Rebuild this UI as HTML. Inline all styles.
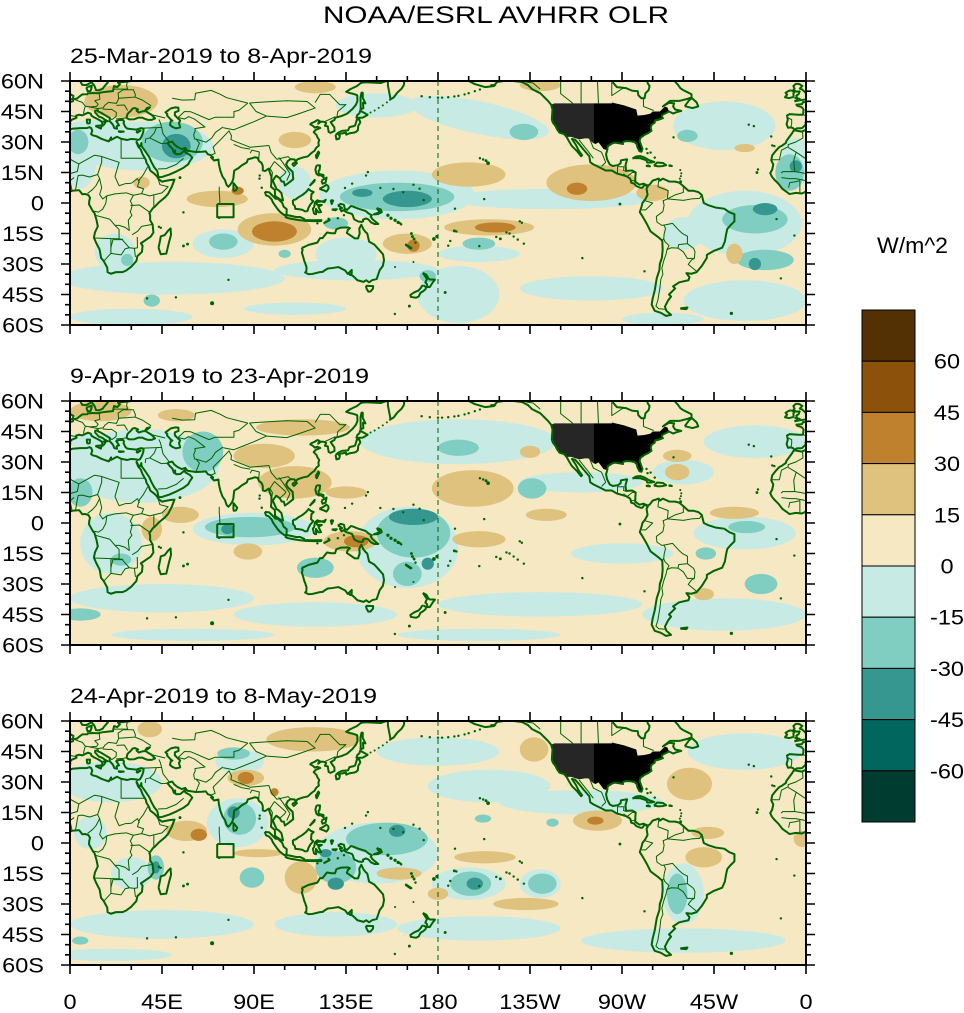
<!DOCTYPE html>
<html><head><meta charset="utf-8"><style>
html,body{margin:0;padding:0;background:#fff}
svg{display:block}
text{font-family:"Liberation Sans",Arial,sans-serif;fill:#000}
.c{fill:none;stroke:#006400;stroke-width:2;vector-effect:non-scaling-stroke;stroke-linejoin:round}
.b{fill:none;stroke:#006400;stroke-width:1;vector-effect:non-scaling-stroke;stroke-linejoin:round}
.d{fill:#006400}
.tk{fill:none;stroke:#000;stroke-width:1.6}
.l1{fill:#c7eae5}.l2{fill:#80cdc1}.l3{fill:#35978f}.t1{fill:#dfc27d}.t2{fill:#bf812d}.be{fill:#f6e8c3}
</style></head><body>
<svg width="964" height="1013" viewBox="0 0 964 1013" xmlns="http://www.w3.org/2000/svg">
<defs>
<clipPath id="pc"><rect x="0" y="-60" width="360" height="120"/></clipPath>
<g id="land">
<polygon fill="#000" points="-104,49 -95,49 -95,49.4 -89,48 -84.5,46.5 -83,46 -82.4,43 -79,43.3 -76,44 -75,45 -71.5,45 -70,46.5 -69,47.4 -67.8,47 -67,45 -70,43.5 -70.6,42.7 -70,41.7 -72,41 -74,40.5 -74,39.5 -75.5,38.5 -76,37 -75.6,35.5 -77,34.5 -79,33.5 -81,32 -81.4,30.5 -80.5,28 -80,26.5 -80.5,25.2 -81.5,25.5 -82.5,27.5 -82.8,29 -84,30 -86,30.4 -88,30.5 -89.5,30 -89.5,29 -91,29.3 -93.5,29.7 -95,29.2 -97,27.8 -97.2,26 -99,26.5 -100.5,28.5 -101.5,29.8 -103,29 -104,29.5"/>
<polygon fill="#262626" points="-124.7,48.4 -123,49 -104,49 -104,29.5 -104.5,29.8 -106.5,31.8 -108.2,31.8 -111,31.3 -114.8,32.5 -117.1,32.5 -118.5,34 -120.6,34.6 -121.9,36.5 -122.5,37.8 -123.8,39.5 -124.3,41 -124.2,43 -124,46"/>
<polyline class="c" points="5,60 5.5,59 6,58.1 8,58 10.5,59.3 11,58.9 12,57.5 12.5,56.2 12.7,55.5 14.2,55.4 16,56.2 16.5,57 18.5,59.3 18,60"/>
<polyline class="c" points="8.6,57.1 10.6,57.7 10.5,56.5 10,55 8.6,55 8.1,56.5 8.6,57.1"/>
<polyline class="c" points="30,60 28,59.7 26,59.5 23.5,59.2 24.4,58.3 23,57 21.6,57.5 21.3,56.5 21,55 18.5,54.8 16,54.5 13.8,54 11,54.1 10,54 8.7,54 8.5,53.5 6,53.4 4.5,52.3 3.5,51.4 1.6,51 1.5,50.1 0,49.6 -1.5,49.6 -2,48.6 -4.7,48.4 -4.3,47.8 -2.2,47.2 -1.2,46 -1.3,44.5 -1.6,43.4 -3.8,43.4 -8,43.7 -9.3,43 -8.9,41 -9.5,38.8 -8.8,37 -7.4,37.2 -6.3,36.8 -5.6,36 -4.5,36.7 -2,36.8 -0.5,38.2 0.2,39 -0.3,39.5 0.9,41 3.2,41.9 3,43 4.5,43.4 6,43.1 7.5,43.8 8.8,44.4 10.2,43.9 10.5,42.9 12,42 13.7,41.2 15.6,40 16,38 15.6,38.2 16.6,38.5 17.2,39.4 16.5,40.1 18.5,40.2 17,41 15.8,41.9 14,42.6 12.3,44.5 12.3,45.3 13.6,45.7 13.6,45.1 15,44.5 17.5,43 19.5,41.8 19.4,40.3 21,38.5 21.7,36.8 23,36.5 22.8,37.8 24,38.2 22.6,40.3 24,40.8 26,40.8 26.4,40.2 26.2,39.3 27,37.5 28,36.6 30.5,36.3 32.5,36.1 34.6,36.8 36,36.6 35.9,35.2 35.5,33.9 34.9,32.5 34.2,31.3 33,31 32.3,31.3 30,31.5 28,31 25,31.6 23,32.6 20,31 20.1,32.3 19,30.3 15.5,31.5 13,32.8 11.1,33.3 10.3,33.9 10.9,35.5 10.4,36.8 9.5,37.3 8.4,36.9 5,36.8 1,36.5 -2,35.1 -5.9,35.8 -6.7,34.5 -9.6,30.5 -9.8,29.6 -12,28 -13,27.6 -14.5,26 -16.5,23.5 -17,21 -16,19 -16.5,16.5 -17.5,14.7 -16.7,13 -15.5,11.5 -13.5,9.5 -11.5,6.9 -8,4.4 -5,5 -2,4.7 1,6 4.5,6.3 6,4.3 7.5,4.4 9,3.9 9.8,2.5 9.4,1 9.3,-0.6 11.1,-3.9 12,-5 13,-8.5 13.6,-11.5 12.2,-14.5 11.7,-17 12.8,-19.6 14.5,-22.9 15.2,-27 16.5,-28.6 18.2,-31.7 18.4,-34 20,-34.8 22.5,-34 25.7,-34 27.5,-33.2 30,-31.3 32.5,-28.5 32.9,-26.2 35.2,-24 35.5,-21 34.7,-19.8 36.3,-18.7 39.5,-16.5 40.8,-14.5 40.4,-10.5 39.2,-8.5 39.2,-6 38.8,-5 40.5,-2.6 41.6,-1.7 43.7,0.5 46.5,2.8 48,4.5 49.8,8 51.1,11.5 49,11.3 45,10.5 43.3,11.8 42.6,13 41.2,14.5 39.3,15.9 38.5,18 37.4,19.8 37.1,21.2 35.5,24 34.6,26.3 33.4,27.7 32.5,29.9 32.6,30.1 33.5,28.2 34.4,28 34.9,29.5 35,28 36.6,25.8 38.8,22.5 39.8,20.2 41.2,17.6 42.7,15.7 43.3,12.7 45,12.8 48.6,14 52.2,15.6 55.3,17.2 57.8,19 58.5,20.4 59.8,22.3 58.7,23.6 56.4,24.9 56.2,26 55.5,25.4 54,24.1 52,24 51.5,24.3 51.4,25.9 50.8,24.7 50.1,26.7 48.8,28 47.7,29.4 48.6,29.9 50,30.2 51,28.8 52.5,27.6 54.7,26.5 56.4,27.1 57.4,25.7 59.6,25.4 61.5,25.1 64.5,25.2 66.4,25.4 67.4,24 68.8,23.5 70,22.4 69,22.4 70.5,20.9 72.6,21.4 72.8,19.2 73.5,16 74.6,13 75.8,11.3 76.6,8.9 77.5,8 78.3,8.9 79.3,10.3 79.9,12 80.3,15.9 81.4,16.6 82.2,17 84,18.5 86.5,20 87,21.5 89,22 90.5,22.5 91.8,22.2 92.4,20.7 93.7,19.7 94.3,18.2 94.3,16 95.4,15.7 97.2,16.9 97.8,14.8 98.5,13.1 98.5,10 98.3,8 98.5,7.8 100.2,6.4 100.3,3.5 101.3,2.8 103.5,1.3 104.2,1.3 103.4,4.9 102.1,6.2 101,6.9 100.1,9 99.2,10.9 100,12.3 100.9,13.4 102.6,12.2 103.5,10.6 104.6,10.5 105.1,8.6 106.4,9.5 109.2,11.7 108.9,15.3 106.7,17.4 105.7,19 106.6,20.7 108,21.6 109.9,21.4 110.4,20.3 111.3,21.5 114,22.4 116.3,22.9 118,24.5 119.6,25.7 120.4,27.1 121.7,28.2 121.5,29.7 121.9,30.9 121,32.4 120.6,33.4 119.2,34.9 120.2,36 122.4,36.9 121,37.5 119.7,37.1 118.9,37.9 117.5,38.7 118,39.2 119.6,39.9 121,40.8 122,40.4 121.4,39 122.7,40 124.3,39.9 125.3,39.4 124.7,38 126.1,37.7 126.5,35 127.4,34.5 129.4,35.4 129.3,37.2 128.3,38.6 127.5,39.8 129.4,40.9 129.7,42 130.8,42.2 132.9,42.8 135.5,43.9 138.2,46.3 139.9,48.4 140.6,50.2 140.5,53 138.2,53.8 137,54 135.1,54.7 137.2,56 140.5,57.6 142.2,59 144,59.4 148.5,59.2 152,59 154.2,59.8 155,60"/>
<polyline class="c" points="155.5,60 155.5,57.8 156.8,51 158.3,51.9 160.1,54.3 162.1,56.1 163.3,58 163.5,60"/>
<polyline class="c" points="27.7,42 28,43.5 28.6,44.3 29.6,45.2 30.7,46.5 31.7,46.7 33.3,46 32.6,45.4 33.6,44.5 35.5,45.1 36.6,45.2 38.2,46.3 39.1,47.1 37.5,46.6 36.7,45.4 38.2,44.4 39.9,43.4 41.6,41.6 40,40.9 38,40.9 36.9,41.3 35.2,42 33.5,42 31.5,41.2 29,41.1 28,41.6 27.7,42"/>
<polyline class="c" points="49,46.4 51.3,47 53,46.9 53.1,45.3 51.3,44.6 51.3,43.1 52.7,41.7 53.9,40.6 53.3,39.3 53.9,37.2 51.8,36.7 50.1,37.4 48.9,38.4 49.3,40.3 50.1,40.5 49.6,40.8 48.6,41.8 47.5,43 47.6,43.7 46.7,44.6 48.5,45.9 49,46.4"/>
<polyline class="c" points="12.4,37.9 15.5,38.2 15.1,36.6 12.4,37.9"/>
<polyline class="c" points="8.4,39 9.6,39.2 9.8,41 8.2,41 8.4,39"/>
<polyline class="c" points="23.5,35.3 26.3,35.1 24.5,34.9 23.5,35.3"/>
<polyline class="c" points="32.3,35 34.5,35.6 33,34.6 32.3,35"/>
<polyline class="c" points="-5.7,50 -3,50.5 1.4,51.2 1.7,52.7 0.3,53.4 -0.4,54.5 -2,55.9 -3,56.3 -1.8,57.6 -3.5,58.6 -5,58.6 -6.2,57.5 -5.6,56.3 -6.2,55.6 -4.7,54.8 -3.1,54.9 -3.6,53.5 -4.7,52.8 -4.2,51.6 -5.3,51.7 -3.1,51.2 -5.7,50"/>
<polyline class="c" points="-6,52.2 -6.2,53.9 -5.6,54.6 -7.3,55.4 -8.3,55.2 -10,54.2 -9.2,53.3 -10.3,52 -8.2,51.6 -6,52.2"/>
<polyline class="c" points="79.9,6.8 80,9.8 81.8,7.5 81.2,6.2 80.1,6 79.9,6.8"/>
<polyline class="c" points="43.3,-22 44.4,-25.2 47.1,-24.9 48.5,-19 49.4,-15.7 49.2,-12.5 48,-13.6 46.3,-15.8 44.4,-16.4 44,-18.7 43.3,-22"/>
<polyline class="c" points="129.9,33.5 130.3,31.3 131.6,31.6 132,33.1 131.1,33.9 132.9,34.2 135,34.6 135.1,33.6 136.8,34.3 138.8,34.6 140.1,35.1 140.8,35.8 141,38 142,39.6 141.4,41.4 140.3,41 139.9,39.5 139.4,38.1 138.8,37.8 136.7,37.3 136,35.7 133,35.5 131,34.4 129.9,33.5"/>
<polyline class="c" points="140,41.6 141.2,41.9 143.2,42 145.5,43.3 144.5,44 141.9,45.4 141.6,44.2 140.5,43.2 140,41.6"/>
<polyline class="c" points="142,46 143.5,46.6 143.3,49.3 144.5,49 143.2,51.7 143.2,54.2 142.6,54.3 142.1,51.9 142.2,46.9 142,46"/>
<polyline class="c" points="120.1,23 120.7,22 121.9,24.6 121.5,25.3 120.1,23"/>
<polyline class="c" points="108.6,19.2 110.2,20.1 111,19.6 109.5,18.2 108.6,19.2"/>
<polyline class="c" points="120.6,18.5 122.3,18.5 122.1,16.3 121.6,15.9 121.7,14.3 124,13.8 124,12.6 122.9,13.6 121.5,13.6 120.6,14.3 120,16.4 120.6,18.5"/>
<polyline class="c" points="122,7 123.6,7.8 124.3,8.2 125.4,9 126.3,8.3 126.5,7.3 126,6.3 125.4,5.6 124.2,6.2 122,7"/>
<polyline class="c" points="117.2,8.4 119.5,10.6 119.7,11.4 117.2,8.4"/>
<polyline class="c" points="123,11 125.5,12.5 125,10 123.5,9.5 123,11"/>
<polyline class="c" points="109,1.5 110.3,1.7 111.7,2.8 113.6,3.9 115.5,5.4 116.7,6.9 117.7,6 119.2,5.4 118.1,4.3 117.9,1.8 119,0.9 117.5,-0.8 116.6,-2.5 116.1,-4 114.9,-4.1 113.8,-3.4 111.7,-3 110.2,-2.9 110,-1.6 109.1,-0.5 109,1.5"/>
<polyline class="c" points="95.3,5.5 97.5,5.2 98.4,4.3 100.6,2.1 101.7,2.1 103.8,0.1 104.5,-1.8 106,-3 105.9,-5.8 104.7,-5.9 102.6,-4.2 101.4,-2.8 99.3,0.2 98.6,1.8 97.2,3.3 95.9,3.7 95.3,5.5"/>
<polyline class="c" points="106,-5.9 108.5,-6.4 110.5,-6.9 112.6,-6.9 114.6,-7.8 114.5,-8.7 112,-8.4 108.3,-7.8 106.5,-7.4 105.4,-6.9 106,-5.9"/>
<polyline class="c" points="115,-8.4 119,-8.5 123,-8.4 122.8,-8.9 119,-8.9 115,-8.8 115,-8.4"/>
<polyline class="c" points="124,-10 127,-8.4 125,-9.4 124,-10"/>
<polyline class="c" points="119.4,-5.4 120.4,-5.5 120.3,-2.9 121.5,-4.6 122.8,-4.5 121.5,-1.9 123.2,-0.9 121.1,-1 120.2,0.2 121.7,0.6 124.1,0.9 125.1,1.6 124.4,0.4 120.9,1.3 119.8,0.2 119.4,-2 118.8,-2.8 119.4,-5.4"/>
<polyline class="c" points="127.5,1.5 128.7,1.2 128,-0.5 127.5,1.5"/>
<polyline class="c" points="128,-3.2 130.5,-3.1 129.8,-3.6 128,-3.2"/>
<polyline class="c" points="131,-1.3 132.4,-0.4 134,-0.9 134.4,-2.8 135.5,-3.4 137.4,-1.5 138.3,-1.7 140.5,-2.6 144.6,-3.9 145.8,-5 147.6,-6.1 147.1,-6.7 148,-8 149.3,-9.1 150.8,-10.3 148.9,-10.3 147.2,-9.5 146,-8.1 144.7,-7.6 143.3,-8.2 143.4,-9 142.6,-9.3 141,-9.1 139.1,-8.1 138.7,-7.3 138.4,-6.2 137.9,-5.4 135.2,-4.5 133.7,-3.5 132.8,-4.1 132,-2.8 133.1,-2.5 131.8,-1.6 131,-1.3"/>
<polyline class="c" points="150,-2.5 152,-3.2 152.5,-4.5 150.5,-5.5 148.5,-5.6 151.5,-4.5 150,-2.5"/>
<polyline class="c" points="113.3,-22 114.2,-21.8 116.7,-20.6 121,-19.5 122.3,-17.3 123.5,-17.3 125.7,-14.5 128,-14.9 129.6,-14.9 130.3,-12.9 132.6,-12.1 136,-12 136.9,-12.4 135.9,-13.3 135.4,-14.7 137.1,-15.9 139.3,-17.4 140.9,-17.4 141.7,-15 141.5,-12.6 142.5,-10.7 143.5,-12.9 144.6,-14.3 145.4,-15 146.3,-19 148.8,-20.4 150.8,-22.6 153.1,-25.2 153.6,-28.1 153,-31 151.5,-33 150,-37.4 147.9,-37.9 146.3,-39 144.9,-38 143.6,-38.8 140.6,-38 139.6,-37 138.1,-35.6 136.8,-35.3 137.8,-34.6 137.8,-32.9 135.9,-34.9 134.6,-33.2 131.3,-31.5 128.2,-32 126.1,-32.2 124,-33.5 123.7,-33.9 122.2,-34 118.5,-34.9 116.6,-35 115,-34.2 115.6,-33.5 115.7,-31.6 115,-29.5 114.6,-28.5 114,-26.3 113.4,-24.4 113.8,-23 113.3,-22"/>
<polyline class="c" points="144.7,-40.7 148.3,-40.9 148.2,-42.1 147,-43.5 145.9,-43.6 145.1,-42.2 144.7,-40.7"/>
<polyline class="c" points="172.6,-34.4 174.3,-35.3 175.4,-37.2 176,-37.6 177.9,-37.6 178.5,-37.7 177.4,-39.1 176,-41.3 174.9,-41.4 174.6,-39.9 173.8,-39.1 174.6,-37.4 172.6,-34.4"/>
<polyline class="c" points="172.8,-40.5 174.2,-41.3 173.9,-42.4 172.7,-43.4 171.4,-44.2 170.6,-45.9 169.3,-46.6 166.7,-46.2 166.5,-45.2 168.3,-44 170.5,-43 171.6,-41.8 172.1,-40.9 172.8,-40.5"/>
<polyline class="c" points="164,-20.2 167,-22.2 166.5,-22.3 164,-20.5"/>
<polyline class="c" points="72,-0.5 80,-0.5 80,-7 72,-7 72,-0.5" />
<polyline class="b" points="73,8 73,5 73.2,3 73.3,0"/>
<polyline class="c" points="-165,60 -162,58.5 -157,57 -153,57.5 -151,59.5 -148,60 -143,60 -139,59.5 -136,58 -134,56 -131,54.5 -130,54 -128,52 -126,50 -124.7,48.4 -124,46 -124.2,43 -124.3,41 -123.8,39.5 -122.5,37.8 -121.9,36.5 -120.6,34.6 -118.5,34 -117.1,32.5 -116,30.5 -114.5,28 -112,25.5 -110,23 -109.5,23.5 -111,25.5 -112.5,28.5 -114.5,31.5 -113,31.2 -111,29 -109,26.5 -106,23 -105.5,20 -104,19 -101,17.5 -98,16 -95,16 -92.5,14.5 -90,13.8 -88,13.2 -86,12 -85.7,11 -85.5,10 -84,9.5 -83,8.3 -81,7.5 -80,7.5 -79,9 -78,8.5 -77.4,8 -78,7 -77.5,4 -78.5,2 -80,0 -80.5,-2 -81.3,-4.5 -80,-6.5 -78,-10 -76,-14 -72,-17 -70.3,-18.5 -70.1,-23 -70.5,-27 -71.5,-30 -71.7,-33 -73,-37 -73.5,-40 -74,-43 -75,-47 -75.5,-50 -74,-53 -71,-54 -68.5,-55.5 -66,-55 -68.3,-53 -69,-51 -67.5,-48 -66,-46 -67,-45 -65,-43 -64,-42 -65,-41 -62,-39 -57.5,-38 -57,-36.5 -58.5,-34.5 -56,-34.8 -53.5,-34 -51,-31 -48.5,-27 -48.5,-25.5 -45,-23.5 -41,-22 -39.7,-19 -39,-15 -38.5,-12.8 -37,-11 -35,-9 -35,-5.5 -37.5,-4.5 -40,-2.8 -44,-2.3 -48,-1 -50,0 -51,4 -52.5,5.3 -55,6 -57.5,6 -60,8.3 -62,10 -64,10.5 -67,10.6 -70,12 -71.5,11 -72,12 -75,11 -76.5,9 -77.4,8.6 -79.5,9.5 -81.5,9 -83.5,10.5 -83.5,12.5 -83.3,15 -85,16 -88,15.8 -88.3,18.5 -87.5,21.5 -90.5,21 -90.7,19.5 -92,18.6 -94.5,18.2 -96,19 -97.3,21.5 -97.8,24 -97.2,26 -97,27.8 -95,29.2 -93.5,29.7 -91,29.3 -89.5,29 -89.5,30 -88,30.5 -86,30.4 -84,30 -82.8,29 -82.5,27.5 -81.5,25.5 -80.5,25.2 -80,26.5 -80.5,28 -81.4,30.5 -81,32 -79,33.5 -77,34.5 -75.6,35.5 -76,37 -75.5,38.5 -74,39.5 -74,40.5 -72,41 -70,41.7 -70.6,42.7 -70,43.5 -67,45 -65,44 -63.5,44.6 -61,45.3 -64,46 -65,47.5 -64.5,49 -67,49.3 -70,47.5 -66.5,50.2 -62,50.2 -58,51.2 -56,52 -56,53.5 -58,54.5 -60,55.5 -61.5,56.5 -62.5,58 -64.3,60"/>
<polyline class="c" points="-59.3,47.6 -55.5,46.7 -52.7,47.5 -53.5,49.5 -55.8,51.6 -57.2,50.5 -59.3,47.6"/>
<polyline class="c" points="-94.8,60 -94,58.7 -92.5,57 -88,56.5 -85,55.2 -82.3,55 -82,53 -80.5,51.5 -79,51.5 -78.5,54 -77,55.5 -76.5,57.5 -77.5,59 -77.5,60"/>
<polyline class="c" points="-84.9,21.9 -83,22.9 -81,23.1 -79,22.4 -77,21.2 -74.2,20.2 -75.7,19.9 -77.7,19.9 -78,21 -81,22 -84,22.1 -84.9,21.9"/>
<polyline class="c" points="-74.4,18.4 -72.8,19.9 -70,19.7 -68.4,18.6 -70,18.2 -72,18 -74.4,18.4"/>
<polyline class="c" points="-78.3,18.2 -76.3,18 -77,18.5 -78.3,18.2"/>
<polyline class="c" points="-67.2,18.3 -65.6,18.2 -66.5,18.5 -67.2,18.3"/>
<polyline class="c" points="-61.5,-51.8 -58,-51.4 -58.5,-52.2 -61,-52 -61.5,-51.8"/>
<polyline class="c" points="-153,57.3 -152,58 -154,58 -153,57.3"/>
<polyline class="b" points="-1.7,35 -1.5,32 -5,30 -8.7,28.7 -8.7,27.7 -12,26 -13,21.3 -17,21.3"/>
<polyline class="b" points="-8.7,27.3 -4.8,25 1,21 4.3,19.2 12,23.5 15,23 24,20 24,19.5"/>
<polyline class="b" points="25,31.6 25,22 37,22"/>
<polyline class="b" points="24,20 22,13 24,8.5 27,9.5 30,9.7 33,12 34,10"/>
<polyline class="b" points="15.5,23 15.5,20 13.5,14 14.5,12 15.5,7.5 14.5,4.2 16,2 18,3.5 22,4.5 27.5,5 31,3.8 35,4.6 36,7 33,8 34,11.5 35.9,14 38,17.8"/>
<polyline class="b" points="4.3,19.2 3.6,15.5 0.2,14.5 -5.5,15.5 -11.4,15.4 -12.2,14.7"/>
<polyline class="b" points="-4.8,25 -6,21 -5.5,15.5"/>
<polyline class="b" points="2.7,6.3 3.6,11.7 4,13.5 6,13.7 9.6,12.8 13.5,14"/>
<polyline class="b" points="14.5,12 12.7,8.5 11,6.6 8.6,4.7"/>
<polyline class="b" points="-3,5 -3,11 -5.5,10.4 -8,10 -8.5,7.5"/>
<polyline class="b" points="0,11 1,6"/>
<polyline class="b" points="-12,12.5 -8,12 -5,12 0,11 2,12.5"/>
<polyline class="b" points="12.2,-6 16,-7 19.5,-8 22,-11 24,-11 27,-12 29,-13.5 28.5,-8.5 30.3,-6 29.5,-4.5 30.5,-1 29.5,1 31,3.8"/>
<polyline class="b" points="11.1,-3.9 14,-4.5 16,-3 17.5,-0.2 18,3.5"/>
<polyline class="b" points="39.2,-4.7 34,-1 29.6,-1.2"/>
<polyline class="b" points="43.2,11.5 44,9 48,8 45,5 41,4 41,-1.7"/>
<polyline class="b" points="35,4.6 39,3.5 41,4"/>
<polyline class="b" points="11.8,-17.2 20,-17.5 23.4,-17.6 25.3,-17.8 26,-17.9"/>
<polyline class="b" points="20,-17.5 20,-22 20,-24.8 16.5,-28.6"/>
<polyline class="b" points="20,-22 21,-18 25.5,-18 29,-22 31.5,-22.3 32,-26.5"/>
<polyline class="b" points="20,-24.8 25,-25.5 27,-22.5 29,-22"/>
<polyline class="b" points="32.9,-16.7 33,-22 31.3,-22.4"/>
<polyline class="b" points="30.4,-15.6 33,-14 35,-11.5 40.4,-10.5"/>
<polyline class="b" points="22,-11 24,-13 24,-17.6"/>
<polyline class="b" points="2,51 6,49.5 7.5,47.6 7,46 6.6,44"/>
<polyline class="b" points="-1.6,43.4 3.2,42.4"/>
<polyline class="b" points="-8.9,41.9 -7,41 -7,39 -7.4,37.2"/>
<polyline class="b" points="14.3,53.9 14.6,51 12.1,50.3 13.8,48.6 13,47.5 10,47.3 7.5,47.6"/>
<polyline class="b" points="23.5,54.2 23.8,51.3 22.7,49 18.8,49.5 17,48 16.2,46.8 13.7,46.5 9.5,47.2"/>
<polyline class="b" points="16,46.2 19,46 20.3,46.1 22.7,44.5 22.5,42.5 20.5,41 19.6,41.8"/>
<polyline class="b" points="22.7,48 26.6,48.2 28.2,45.5"/>
<polyline class="b" points="22.5,41.3 26.4,41.7 28,42"/>
<polyline class="b" points="23.6,51.5 31.8,52.1 35.4,50.6 39.7,47.8"/>
<polyline class="b" points="21.3,56 28.2,56 27.7,57.8 28,59.5"/>
<polyline class="b" points="23.5,54 26,55.7 31,55.7 32,53.2 31.8,52.1"/>
<polyline class="b" points="36,36.8 42.3,37.1 44.8,37.2 44.2,39.5 43.5,41.1"/>
<polyline class="b" points="40,43.4 46.6,41.8"/>
<polyline class="b" points="42.3,37.1 41.2,34.4 39,32 44.7,29.2 47.7,29.4"/>
<polyline class="b" points="44.8,37.2 45.5,34 48.6,30"/>
<polyline class="b" points="43,16.7 47,16.9 52,19 55.6,22"/>
<polyline class="b" points="36.8,29.5 37,31.5 39,32"/>
<polyline class="b" points="61,36.6 61.3,35.6 60.5,33.7 60.9,31.5 61.7,31.4 63.3,29.5 61.6,25.2"/>
<polyline class="b" points="61.7,31.4 66.5,29.9 69.3,31.9 71.1,34.7 74.9,37.4"/>
<polyline class="b" points="53,42 56,41.3 58,42.5 61,41.2 66,37.4 61,36.6"/>
<polyline class="b" points="52.5,41.7 56,45 59,44.9 68,41 71,42.2 80.2,42.2 80.2,45 82.5,45.5 87,49.1"/>
<polyline class="b" points="50,51.5 55,50.6 61,50.8 61.4,54 69,55.4 73.4,53.5 76.6,51.8 87,49.1"/>
<polyline class="b" points="87.8,49.2 97,49.8 106,50.3 116,49.9 119.9,46.7 111,43.6 106,42 96.3,42.7 91,45 87.8,49.2"/>
<polyline class="b" points="119.9,49.4 122.4,53.4 127,53.4 132,48.3 135,48.4 131,45 130.6,42.6"/>
<polyline class="b" points="124.3,39.9 129.7,42.4"/>
<polyline class="b" points="68.8,23.5 71,24.4 70,27.5 74.5,32 77.8,35.5 79,33 78.7,31.2 81,30.2 88.2,27.4 92,27.8 97.3,28.3"/>
<polyline class="b" points="80.1,28.8 84,27.2 88.2,26.5"/>
<polyline class="b" points="88.1,24.5 89,26 92.6,25.1 92.3,21.5"/>
<polyline class="b" points="97.3,28.3 98.4,24.8 101.2,21.5 106.7,22.8 108,21.6"/>
<polyline class="b" points="100,20.4 105.6,15.3 105,14.3 102.6,12.2"/>
<polyline class="b" points="102.1,22.4 104,20 106.8,15.7 107.6,14.5 106,11"/>
<polyline class="b" points="98.5,10 99,15 97.8,17 100,20.4"/>
<polyline class="b" points="75,37 80,36 85,38 90,40 96,42.7"/>
<polyline class="b" points="-72,11.8 -72.4,8 -67.4,6.1 -67.8,2 -69.9,1.1 -69.4,-1.1 -70,-4.2"/>
<polyline class="b" points="-60,8.3 -60,5.2 -64,4 -67.8,2 -60,1.3 -56,2 -52,2.3 -51,4"/>
<polyline class="b" points="-79,1.2 -75,0 -75.3,-0.3 -78.4,-3.4 -80.3,-3.4"/>
<polyline class="b" points="-70,-4.2 -73.2,-6.6 -72.9,-9.4 -70.5,-11 -69.5,-10.9 -68.7,-12.5 -69.4,-15.4 -69.6,-17.6 -70.4,-18.4"/>
<polyline class="b" points="-69.5,-10.9 -65.3,-10 -62,-13.6 -60.3,-15.1 -58,-16.3 -58,-20 -62.3,-20.5 -62.6,-22.2 -65.9,-22 -68,-22.9 -67,-21 -69,-19 -69.6,-17.6"/>
<polyline class="b" points="-68,-22.9 -68.4,-25 -69.6,-28.5 -70.5,-32 -70,-35 -71,-37.5 -71.5,-42 -72,-45 -72.5,-48 -73.4,-50.7 -72,-52 -68.5,-52.3"/>
<polyline class="b" points="-62.6,-22.2 -60,-24 -58,-27.3 -54.6,-27.2 -54.3,-24 -55,-22.3 -58,-20"/>
<polyline class="b" points="-54.6,-27.2 -56,-28 -57.6,-30.2 -53.4,-33.7"/>
<polyline class="b" points="-92.2,14.5 -92.2,17.8 -89.1,17.8 -89.2,15.9 -88.2,15.7"/>
<polyline class="b" points="-89.3,14.4 -87.5,13 -85,15 -83.2,15"/>
<polyline class="b" points="-85.7,11 -83.7,11"/>
<polyline class="b" points="-110,60 -110,49"/>
<polyline class="b" points="-102,60 -101.5,49"/>
<polyline class="b" points="-95,60 -95,52.8 -89,56.8"/>
<polyline class="b" points="-79.5,51.5 -79.5,47.5 -74.5,45.5"/>
<polyline class="b" points="-120,60 -120,53.8 -114,49"/>
<polyline class="b" points="-130,56 -133.5,59 -137,59.5"/>
<polyline class="b" points="-106,32 -104,27 -100,25 -98,20 -100,18"/>
<polyline class="b" points="-111,31 -107,26 -104,22"/>
<g class="d">
<circle cx="145.7" cy="15.2" r="0.6"/><circle cx="144.8" cy="13.5" r="0.6"/><circle cx="171" cy="7" r="0.6"/><circle cx="168" cy="9" r="0.6"/>
<circle cx="151.8" cy="7.4" r="0.6"/><circle cx="158.2" cy="6.9" r="0.6"/><circle cx="163" cy="5.3" r="0.6"/><circle cx="138" cy="9.5" r="0.6"/><circle cx="134.5" cy="7.4" r="0.6"/>
<circle cx="155.5" cy="-6" r="0.8"/><circle cx="157" cy="-7.5" r="0.8"/><circle cx="159" cy="-8.5" r="0.8"/><circle cx="160.5" cy="-9.5" r="0.8"/><circle cx="161.5" cy="-10" r="0.6"/><circle cx="162" cy="-10.5" r="0.6"/>
<circle cx="167" cy="-15" r="0.7"/><circle cx="167.5" cy="-16.5" r="0.7"/><circle cx="168.3" cy="-17.7" r="0.7"/><circle cx="169" cy="-19.5" r="0.6"/>
<circle cx="178" cy="-17.7" r="0.9"/><circle cx="179.5" cy="-16.5" r="0.8"/><circle cx="-172" cy="-13.7" r="0.7"/><circle cx="-171" cy="-14" r="0.6"/>
<circle cx="-175" cy="-21" r="0.6"/><circle cx="-174" cy="-18.7" r="0.6"/><circle cx="-159.8" cy="-21.2" r="0.6"/><circle cx="-149.5" cy="-17.6" r="0.7"/><circle cx="-151.5" cy="-16.7" r="0.6"/>
<circle cx="-140" cy="-9" r="0.6"/><circle cx="-139" cy="-9.7" r="0.6"/><circle cx="-145" cy="-15" r="0.6"/><circle cx="-143" cy="-16.5" r="0.6"/><circle cx="-141" cy="-18" r="0.6"/><circle cx="-138" cy="-20" r="0.6"/><circle cx="-146.5" cy="-14.5" r="0.6"/>
<circle cx="-157.4" cy="1.9" r="0.6"/><circle cx="173" cy="1.4" r="0.6"/><circle cx="-171.7" cy="-2.8" r="0.6"/>
<circle cx="-155.5" cy="19.6" r="0.9"/><circle cx="-156.5" cy="20.8" r="0.7"/><circle cx="-157.9" cy="21.4" r="0.6"/><circle cx="-159.5" cy="22" r="0.6"/>
<circle cx="-91" cy="-0.5" r="0.7"/><circle cx="-109.4" cy="-27.1" r="0.6"/><circle cx="-79" cy="-33.6" r="0.6"/><circle cx="-36.5" cy="-54.3" r="0.8"/>
<circle cx="-12.3" cy="-37.1" r="0.6"/><circle cx="-5.7" cy="-16" r="0.6"/><circle cx="-14.4" cy="-7.9" r="0.6"/><circle cx="-24" cy="15" r="0.7"/><circle cx="-23.5" cy="16.5" r="0.6"/>
<circle cx="-15.5" cy="28" r="0.6"/><circle cx="-16.5" cy="28.3" r="0.6"/><circle cx="-28" cy="38.5" r="0.6"/><circle cx="-25.5" cy="37.8" r="0.6"/><circle cx="-17" cy="32.7" r="0.6"/><circle cx="-64.8" cy="32.3" r="0.6"/>
<circle cx="57.5" cy="-20.2" r="0.7"/><circle cx="55.5" cy="-21.1" r="0.7"/><circle cx="43.5" cy="-11.7" r="0.6"/><circle cx="44.4" cy="-12.2" r="0.6"/><circle cx="55.5" cy="-4.6" r="0.6"/><circle cx="53.8" cy="12.5" r="0.7"/>
<circle cx="92.7" cy="12" r="0.6"/><circle cx="92.8" cy="13.5" r="0.6"/><circle cx="93.8" cy="7.5" r="0.6"/><circle cx="69.5" cy="-49.3" r="1"/><circle cx="51.8" cy="-46.4" r="0.6"/><circle cx="37.7" cy="-46.9" r="0.6"/><circle cx="77.5" cy="-37.8" r="0.6"/>
<circle cx="158.9" cy="-54.6" r="0.6"/><circle cx="166" cy="-50.7" r="0.7"/><circle cx="-176.5" cy="-44" r="0.7"/><circle cx="159" cy="-31.5" r="0.5"/><circle cx="168" cy="-29" r="0.5"/>
<circle cx="-61.5" cy="16.2" r="0.5"/><circle cx="-61" cy="14.6" r="0.5"/><circle cx="-61.2" cy="13.2" r="0.5"/><circle cx="-61.7" cy="12" r="0.5"/><circle cx="-61.3" cy="10.5" r="0.7"/>
<circle cx="-77.5" cy="24.5" r="0.6"/><circle cx="-76" cy="24.8" r="0.6"/><circle cx="-78" cy="26.6" r="0.6"/><circle cx="-74" cy="22.3" r="0.6"/>
<circle cx="172" cy="52.5" r="0.6"/><circle cx="176" cy="52" r="0.6"/><circle cx="180" cy="51.8" r="0.6"/><circle cx="-178" cy="51.8" r="0.6"/><circle cx="-175" cy="52" r="0.6"/><circle cx="-172" cy="52.4" r="0.6"/><circle cx="-170" cy="52.7" r="0.6"/><circle cx="-167" cy="53.4" r="0.6"/><circle cx="-165" cy="54" r="0.6"/><circle cx="-162" cy="55" r="0.6"/><circle cx="-159.5" cy="55.8" r="0.6"/>
<circle cx="145.5" cy="43.5" r="0.5"/><circle cx="147" cy="44.5" r="0.5"/><circle cx="149" cy="45.5" r="0.5"/><circle cx="151" cy="46.8" r="0.5"/><circle cx="153" cy="48" r="0.5"/><circle cx="155" cy="49.5" r="0.5"/><circle cx="156.5" cy="50.8" r="0.5"/>
<circle cx="73" cy="-7.3" r="0.6"/><circle cx="131" cy="-7.5" r="0.6"/><circle cx="134" cy="-6" r="0.6"/><circle cx="126.5" cy="-7.8" r="0.6"/><circle cx="121" cy="-10" r="0.6"/>
</g>
</g>
<g id="ticks">
<rect x="70" y="0" width="736" height="244" fill="none" stroke="#000" stroke-width="2"/>
<path class="tk" d="M61 0H70M61 30.5H70M61 61H70M61 91.5H70M61 122H70M61 152.5H70M61 183H70M61 213.5H70M61 244H70M806 0H815M806 30.5H815M806 61H815M806 91.5H815M806 122H815M806 152.5H815M806 183H815M806 213.5H815M806 244H815M70 0V-9M162 0V-9M254 0V-9M346 0V-9M438 0V-9M530 0V-9M622 0V-9M714 0V-9M806 0V-9M70 244V253M162 244V253M254 244V253M346 244V253M438 244V253M530 244V253M622 244V253M714 244V253M806 244V253"/>
<path class="tk" stroke-width="1.2" d="M65 10.17H70M65 20.33H70M65 40.67H70M65 50.83H70M65 71.17H70M65 81.33H70M65 101.67H70M65 111.83H70M65 132.17H70M65 142.33H70M65 162.67H70M65 172.83H70M65 193.17H70M65 203.33H70M65 223.67H70M65 233.83H70M806 10.17H811M806 20.33H811M806 40.67H811M806 50.83H811M806 71.17H811M806 81.33H811M806 101.67H811M806 111.83H811M806 132.17H811M806 142.33H811M806 162.67H811M806 172.83H811M806 193.17H811M806 203.33H811M806 223.67H811M806 233.83H811M100.67 0V-5M131.33 0V-5M192.67 0V-5M223.33 0V-5M284.67 0V-5M315.33 0V-5M376.67 0V-5M407.33 0V-5M468.67 0V-5M499.33 0V-5M560.67 0V-5M591.33 0V-5M652.67 0V-5M683.33 0V-5M744.67 0V-5M775.33 0V-5M100.67 244V249M131.33 244V249M192.67 244V249M223.33 244V249M284.67 244V249M315.33 244V249M376.67 244V249M407.33 244V249M468.67 244V249M499.33 244V249M560.67 244V249M591.33 244V249M652.67 244V249M683.33 244V249M744.67 244V249M775.33 244V249"/>
<line x1="438" y1="0" x2="438" y2="244" stroke="#006400" stroke-width="1" stroke-dasharray="5 4"/>
</g>
</defs>

<!-- PANEL 1 -->
<g clip-path="url(#pc)" transform="translate(70 203) scale(2.04444 -2.03333)">
<rect x="0" y="-60" width="360" height="120" fill="#f6e8c3"/>
<g class="l1">
<ellipse cx="35" cy="28" rx="35" ry="12"/><ellipse cx="15" cy="38" rx="15" ry="3"/><ellipse cx="5" cy="22" rx="8" ry="15"/><ellipse cx="22" cy="-24" rx="10" ry="9"/>
<ellipse cx="50" cy="-37" rx="55" ry="8"/><ellipse cx="140" cy="-33" rx="40" ry="5"/><ellipse cx="30" cy="-56" rx="30" ry="4"/><ellipse cx="190" cy="-45" rx="20" ry="14"/>
<ellipse cx="255" cy="-42" rx="35" ry="6"/><ellipse cx="330" cy="-48" rx="30" ry="10"/><ellipse cx="290" cy="-57" rx="20" ry="3"/><ellipse cx="110" cy="-52" rx="25" ry="3"/>
<ellipse cx="160" cy="4" rx="38" ry="12"/><ellipse cx="75" cy="-20" rx="15" ry="7"/><ellipse cx="150" cy="48" rx="20" ry="6"/>
<ellipse cx="200" cy="42" rx="35" ry="8" transform="rotate(-12 200 42)"/><ellipse cx="235" cy="2" rx="50" ry="5"/><ellipse cx="330" cy="-10" rx="28" ry="16"/><ellipse cx="320" cy="38" rx="25" ry="12"/>
<ellipse cx="300" cy="-15" rx="10" ry="8"/><ellipse cx="135" cy="-25" rx="15" ry="8"/><ellipse cx="200" cy="-25" rx="20" ry="4"/><ellipse cx="110" cy="10" rx="8" ry="8"/>
<ellipse cx="355" cy="20" rx="8" ry="12"/>
</g>
<g class="l2">
<ellipse cx="50" cy="30" rx="15" ry="10"/><ellipse cx="4" cy="30" rx="5" ry="6"/><ellipse cx="160" cy="3" rx="28" ry="7"/><ellipse cx="75" cy="-19" rx="7" ry="4"/>
<ellipse cx="222" cy="35" rx="7" ry="4"/><ellipse cx="335" cy="-8" rx="16" ry="7"/><ellipse cx="340" cy="-28" rx="14" ry="5"/><ellipse cx="302" cy="33" rx="5" ry="3"/>
<ellipse cx="352" cy="15" rx="7" ry="9"/><ellipse cx="130" cy="-10" rx="6" ry="3"/><ellipse cx="200" cy="-20" rx="8" ry="3"/><ellipse cx="105" cy="-25" rx="3" ry="2"/>
<ellipse cx="28" cy="-28" rx="3" ry="3"/><ellipse cx="175" cy="-36" rx="4" ry="3"/><ellipse cx="40" cy="-48" rx="4" ry="3"/>
</g>
<g class="l3">
<ellipse cx="52" cy="28" rx="7" ry="6"/><ellipse cx="165" cy="2" rx="12" ry="4"/><ellipse cx="143" cy="5" rx="5" ry="2"/><ellipse cx="340" cy="-3" rx="6" ry="3"/><ellipse cx="335" cy="-30" rx="3" ry="3"/><ellipse cx="355" cy="18" rx="3" ry="3"/>
</g>
<g class="t1">
<ellipse cx="25" cy="50" rx="18" ry="8"/><ellipse cx="72" cy="2" rx="15" ry="4"/><ellipse cx="100" cy="-13" rx="18" ry="8"/><ellipse cx="165" cy="-20" rx="12" ry="5"/>
<ellipse cx="110" cy="31" rx="8" ry="4"/><ellipse cx="195" cy="14" rx="18" ry="6"/><ellipse cx="255" cy="10" rx="22" ry="9"/><ellipse cx="205" cy="-12" rx="22" ry="4"/>
<ellipse cx="330" cy="27" rx="5" ry="2"/><ellipse cx="285" cy="5" rx="8" ry="4"/><ellipse cx="325" cy="-25" rx="4" ry="5"/><ellipse cx="230" cy="58" rx="10" ry="3"/>
<ellipse cx="120" cy="57" rx="10" ry="3"/><ellipse cx="35" cy="10" rx="4" ry="3"/>
</g>
<g class="t2">
<ellipse cx="100" cy="-14" rx="11" ry="5"/><ellipse cx="168" cy="-21" rx="3" ry="3"/><ellipse cx="248" cy="7" rx="5" ry="3"/><ellipse cx="208" cy="-12" rx="10" ry="2.5"/><ellipse cx="82" cy="6" rx="3" ry="2"/>
</g>
<use href="#land"/><use href="#land" x="360"/>
</g>

<!-- PANEL 2 -->
<g clip-path="url(#pc)" transform="translate(70 523) scale(2.04444 -2.03333)">
<rect x="0" y="-60" width="360" height="120" fill="#f6e8c3"/>
<g class="l1">
<ellipse cx="35" cy="28" rx="38" ry="18"/><ellipse cx="190" cy="40" rx="48" ry="11"/><ellipse cx="90" cy="-3" rx="30" ry="8"/><ellipse cx="165" cy="-12" rx="25" ry="20"/>
<ellipse cx="45" cy="-37" rx="45" ry="7"/><ellipse cx="120" cy="-45" rx="40" ry="6"/><ellipse cx="230" cy="-40" rx="50" ry="6"/><ellipse cx="320" cy="-45" rx="40" ry="8"/>
<ellipse cx="60" cy="-55" rx="40" ry="3"/><ellipse cx="200" cy="-55" rx="40" ry="3"/><ellipse cx="330" cy="-5" rx="25" ry="8"/><ellipse cx="335" cy="40" rx="25" ry="8"/>
<ellipse cx="10" cy="40" rx="10" ry="4"/><ellipse cx="250" cy="20" rx="30" ry="5"/><ellipse cx="270" cy="-15" rx="25" ry="5"/><ellipse cx="20" cy="-10" rx="15" ry="15"/>
<ellipse cx="300" cy="25" rx="15" ry="6"/>
</g>
<g class="l2">
<ellipse cx="65" cy="35" rx="10" ry="10"/><ellipse cx="5" cy="15" rx="6" ry="7"/><ellipse cx="88" cy="-2" rx="22" ry="5"/><ellipse cx="168" cy="-5" rx="18" ry="12"/>
<ellipse cx="120" cy="-22" rx="9" ry="5"/><ellipse cx="190" cy="37" rx="10" ry="4"/><ellipse cx="226" cy="17" rx="7" ry="5"/><ellipse cx="331" cy="-2" rx="9" ry="3"/>
<ellipse cx="338" cy="-30" rx="8" ry="5"/><ellipse cx="311" cy="-15" rx="5" ry="3"/><ellipse cx="25" cy="-18" rx="5" ry="3"/><ellipse cx="165" cy="-25" rx="7" ry="6"/><ellipse cx="5" cy="-45" rx="10" ry="3"/>
</g>
<g class="l3">
<ellipse cx="168" cy="3" rx="12" ry="4"/><ellipse cx="77" cy="-3" rx="3" ry="2.5"/><ellipse cx="175" cy="-20" rx="3" ry="3"/>
</g>
<g class="t1">
<ellipse cx="15" cy="55" rx="15" ry="5"/><ellipse cx="52" cy="53" rx="9" ry="3"/><ellipse cx="114" cy="47" rx="23" ry="4"/><ellipse cx="95" cy="33" rx="15" ry="6"/>
<ellipse cx="110" cy="20" rx="18" ry="8"/><ellipse cx="135" cy="15" rx="10" ry="3"/><ellipse cx="54" cy="4" rx="9" ry="4"/><ellipse cx="40" cy="-3" rx="5" ry="6"/>
<ellipse cx="87" cy="-14" rx="7" ry="4"/><ellipse cx="137" cy="-9" rx="13" ry="5"/><ellipse cx="197" cy="17" rx="20" ry="9"/><ellipse cx="200" cy="-8" rx="13" ry="4"/>
<ellipse cx="225" cy="35" rx="5" ry="3"/><ellipse cx="233" cy="4" rx="10" ry="3"/><ellipse cx="297" cy="33" rx="7" ry="3"/><ellipse cx="297" cy="25" rx="6" ry="4"/>
<ellipse cx="325" cy="5" rx="12" ry="3"/><ellipse cx="310" cy="-35" rx="5" ry="3"/>
</g>
<g class="t2"><ellipse cx="140" cy="-9" rx="6" ry="3"/></g>
<use href="#land"/><use href="#land" x="360"/>
</g>

<!-- PANEL 3 -->
<g clip-path="url(#pc)" transform="translate(70 843) scale(2.04444 -2.03333)">
<rect x="0" y="-60" width="360" height="120" fill="#f6e8c3"/>
<g class="l1">
<ellipse cx="20" cy="30" rx="25" ry="10"/><ellipse cx="83" cy="40" rx="12" ry="6"/><ellipse cx="82" cy="10" rx="15" ry="12"/><ellipse cx="150" cy="-5" rx="30" ry="15"/>
<ellipse cx="195" cy="-20" rx="18" ry="8"/><ellipse cx="230" cy="-20" rx="10" ry="7"/><ellipse cx="300" cy="-25" rx="10" ry="15"/><ellipse cx="45" cy="-40" rx="45" ry="7"/>
<ellipse cx="130" cy="-40" rx="30" ry="6"/><ellipse cx="200" cy="-42" rx="40" ry="6"/><ellipse cx="300" cy="-48" rx="50" ry="6"/><ellipse cx="20" cy="-55" rx="30" ry="3"/>
<ellipse cx="250" cy="20" rx="40" ry="6"/><ellipse cx="205" cy="28" rx="30" ry="8"/><ellipse cx="330" cy="45" rx="28" ry="9"/><ellipse cx="180" cy="45" rx="30" ry="7"/>
<ellipse cx="10" cy="5" rx="8" ry="8"/><ellipse cx="30" cy="-15" rx="10" ry="8"/>
</g>
<g class="l2">
<ellipse cx="83" cy="12" rx="8" ry="8"/><ellipse cx="42" cy="-12" rx="4" ry="6"/><ellipse cx="89" cy="-17" rx="6" ry="5"/><ellipse cx="155" cy="2" rx="20" ry="8"/>
<ellipse cx="130" cy="-12" rx="10" ry="8"/><ellipse cx="196" cy="-20" rx="10" ry="6"/><ellipse cx="231" cy="-20" rx="7" ry="5"/><ellipse cx="297" cy="-25" rx="5" ry="10"/>
<ellipse cx="80" cy="44" rx="8" ry="3"/><ellipse cx="202" cy="12" rx="4" ry="2"/><ellipse cx="236" cy="10" rx="3" ry="2"/><ellipse cx="5" cy="-48" rx="4" ry="2"/>
</g>
<g class="l3">
<ellipse cx="80" cy="15" rx="3" ry="3"/><ellipse cx="42" cy="-12" rx="2" ry="3"/><ellipse cx="160" cy="6" rx="4" ry="3"/><ellipse cx="130" cy="-20" rx="4" ry="3"/><ellipse cx="198" cy="-20" rx="4" ry="3"/><ellipse cx="125" cy="-5" rx="3" ry="2"/>
</g>
<g class="t1">
<ellipse cx="39" cy="56" rx="6" ry="4"/><ellipse cx="119" cy="51" rx="23" ry="6"/><ellipse cx="86" cy="32" rx="9" ry="4"/><ellipse cx="57" cy="6" rx="10" ry="5"/>
<ellipse cx="92" cy="-5" rx="12" ry="2"/><ellipse cx="113" cy="-17" rx="8" ry="8"/><ellipse cx="161" cy="-15" rx="11" ry="3"/><ellipse cx="203" cy="-7" rx="15" ry="3"/>
<ellipse cx="223" cy="-30" rx="16" ry="3"/><ellipse cx="258" cy="11" rx="12" ry="5"/><ellipse cx="227" cy="46" rx="7" ry="6"/><ellipse cx="303" cy="29" rx="11" ry="8"/>
<ellipse cx="312" cy="5" rx="8" ry="3"/><ellipse cx="310" cy="-7" rx="9" ry="5"/><ellipse cx="358" cy="2" rx="4" ry="4"/><ellipse cx="180" cy="-25" rx="5" ry="3"/>
</g>
<g class="t2">
<ellipse cx="86" cy="32" rx="4" ry="3"/><ellipse cx="63" cy="4" rx="4" ry="3"/><ellipse cx="257" cy="11" rx="4" ry="2"/><ellipse cx="100" cy="25" rx="2" ry="2"/>
</g>
<use href="#land"/><use href="#land" x="360"/>
</g>

<use href="#ticks" y="81"/>
<use href="#ticks" y="401"/>
<use href="#ticks" y="721"/>

<text x="323" y="23" font-size="24" textLength="346" lengthAdjust="spacingAndGlyphs">NOAA/ESRL AVHRR OLR</text>
<text x="70" y="63" font-size="21" textLength="302" lengthAdjust="spacingAndGlyphs">25-Mar-2019 to 8-Apr-2019</text>
<text x="70" y="383" font-size="21" textLength="299" lengthAdjust="spacingAndGlyphs">9-Apr-2019 to 23-Apr-2019</text>
<text x="70" y="703" font-size="21" textLength="307" lengthAdjust="spacingAndGlyphs">24-Apr-2019 to 8-May-2019</text>

<g font-size="21" text-anchor="end">
<text transform="translate(44 88.5) scale(1.12 1)">60N</text>
<text transform="translate(44 119) scale(1.12 1)">45N</text>
<text transform="translate(44 149.5) scale(1.12 1)">30N</text>
<text transform="translate(44 180) scale(1.12 1)">15N</text>
<text transform="translate(44 210.5) scale(1.12 1)">0</text>
<text transform="translate(44 241) scale(1.12 1)">15S</text>
<text transform="translate(44 271.5) scale(1.12 1)">30S</text>
<text transform="translate(44 302) scale(1.12 1)">45S</text>
<text transform="translate(44 332.5) scale(1.12 1)">60S</text>
<text transform="translate(44 408.5) scale(1.12 1)">60N</text>
<text transform="translate(44 439) scale(1.12 1)">45N</text>
<text transform="translate(44 469.5) scale(1.12 1)">30N</text>
<text transform="translate(44 500) scale(1.12 1)">15N</text>
<text transform="translate(44 530.5) scale(1.12 1)">0</text>
<text transform="translate(44 561) scale(1.12 1)">15S</text>
<text transform="translate(44 591.5) scale(1.12 1)">30S</text>
<text transform="translate(44 622) scale(1.12 1)">45S</text>
<text transform="translate(44 652.5) scale(1.12 1)">60S</text>
<text transform="translate(44 728.5) scale(1.12 1)">60N</text>
<text transform="translate(44 759) scale(1.12 1)">45N</text>
<text transform="translate(44 789.5) scale(1.12 1)">30N</text>
<text transform="translate(44 820) scale(1.12 1)">15N</text>
<text transform="translate(44 850.5) scale(1.12 1)">0</text>
<text transform="translate(44 881) scale(1.12 1)">15S</text>
<text transform="translate(44 911.5) scale(1.12 1)">30S</text>
<text transform="translate(44 942) scale(1.12 1)">45S</text>
<text transform="translate(44 972.5) scale(1.12 1)">60S</text>
</g>
<g font-size="21" text-anchor="middle">
<text transform="translate(70 1009) scale(1.12 1)">0</text>
<text transform="translate(162 1009) scale(1.12 1)">45E</text>
<text transform="translate(254 1009) scale(1.12 1)">90E</text>
<text transform="translate(346 1009) scale(1.12 1)">135E</text>
<text transform="translate(438 1009) scale(1.12 1)">180</text>
<text transform="translate(530 1009) scale(1.12 1)">135W</text>
<text transform="translate(622 1009) scale(1.12 1)">90W</text>
<text transform="translate(714 1009) scale(1.12 1)">45W</text>
<text transform="translate(806 1009) scale(1.12 1)">0</text>
</g>

<g stroke="#000" stroke-width="1">
<rect x="862" y="310" width="53" height="51.2" fill="#543005"/>
<rect x="862" y="361.2" width="53" height="51.2" fill="#8c510a"/>
<rect x="862" y="412.4" width="53" height="51.2" fill="#bf812d"/>
<rect x="862" y="463.6" width="53" height="51.2" fill="#dfc27d"/>
<rect x="862" y="514.8" width="53" height="51.2" fill="#f6e8c3"/>
<rect x="862" y="566" width="53" height="51.2" fill="#c7eae5"/>
<rect x="862" y="617.2" width="53" height="51.2" fill="#80cdc1"/>
<rect x="862" y="668.4" width="53" height="51.2" fill="#35978f"/>
<rect x="862" y="719.6" width="53" height="51.2" fill="#01665e"/>
<rect x="862" y="770.8" width="53" height="51.2" fill="#003c30"/>
</g>
<text x="877" y="253" font-size="22" textLength="71" lengthAdjust="spacingAndGlyphs">W/m^2</text>
<g font-size="21" text-anchor="middle">
<text transform="translate(947 368.7) scale(1.12 1)">60</text>
<text transform="translate(947 419.9) scale(1.12 1)">45</text>
<text transform="translate(947 471.1) scale(1.12 1)">30</text>
<text transform="translate(947 522.3) scale(1.12 1)">15</text>
<text transform="translate(947 573.5) scale(1.12 1)">0</text>
<text transform="translate(947 624.7) scale(1.12 1)">-15</text>
<text transform="translate(947 675.9) scale(1.12 1)">-30</text>
<text transform="translate(947 727.1) scale(1.12 1)">-45</text>
<text transform="translate(947 778.3) scale(1.12 1)">-60</text>
</g>
</svg>
</body></html>
